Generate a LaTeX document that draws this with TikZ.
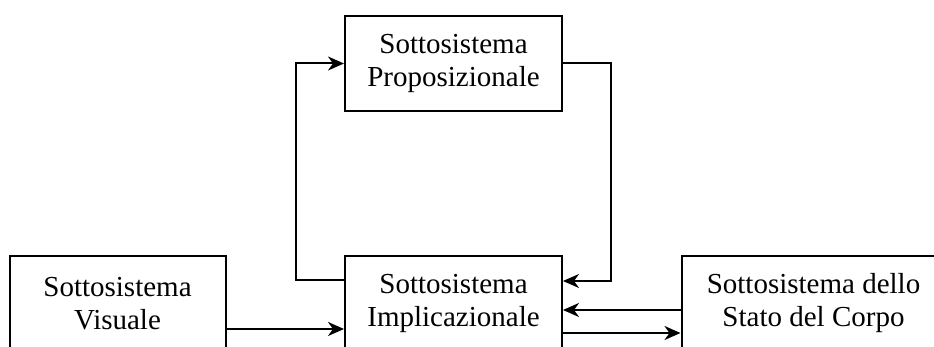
\documentclass[tikz,border=0pt]{standalone}
\usepackage{fontspec}
\setmainfont{Liberation Serif}
\usetikzlibrary{arrows.meta}
\begin{document}
\begin{tikzpicture}[x=1pt,y=-1pt,
  sysbox/.style={draw, line width=2pt, minimum height=95pt, inner sep=0pt,
    align=center, font=\fontsize{29}{33}\selectfont},
  arr/.style={line width=2pt, -{Stealth[length=16pt,width=14pt,inset=5pt]}}]
  \clip (0,0) rectangle (934,347);
  \fill[white] (0,0) rectangle (934,347);
  % subsystems
  \node[sysbox, minimum width=217pt] (prop) at (453.5,63.5) {Sottosistema\\Proposizionale};
  \node[sysbox, minimum width=217pt] (impl) at (453.5,303.5) {Sottosistema\\Implicazionale};
  \node[sysbox, minimum width=216pt] (vis) at (117.5,303.5) {Sottosistema\\Visuale};
  \node[sysbox, minimum width=264pt] (body) at (813.5,303.5) {Sottosistema dello\\Stato del Corpo};
  % feedback loop through the propositional subsystem
  \draw[arr] ([yshift=23.5pt]impl.west) -- ++(-48,0) |- (prop.west);
  \draw[arr] (prop.east) -- ++(48,0) |- ([yshift=22.5pt]impl.east);
  % visual input
  \draw[arr] ([yshift=-25.5pt]vis.east) -- ([yshift=-25.5pt]impl.west);
  % exchange with the body-state subsystem
  \draw[arr] ([yshift=-6.5pt]body.west) -- ([yshift=-6.5pt]impl.east);
  \draw[arr] ([yshift=-29.5pt]impl.east) -- ([yshift=-29.5pt]body.west);
\end{tikzpicture}
\end{document}
